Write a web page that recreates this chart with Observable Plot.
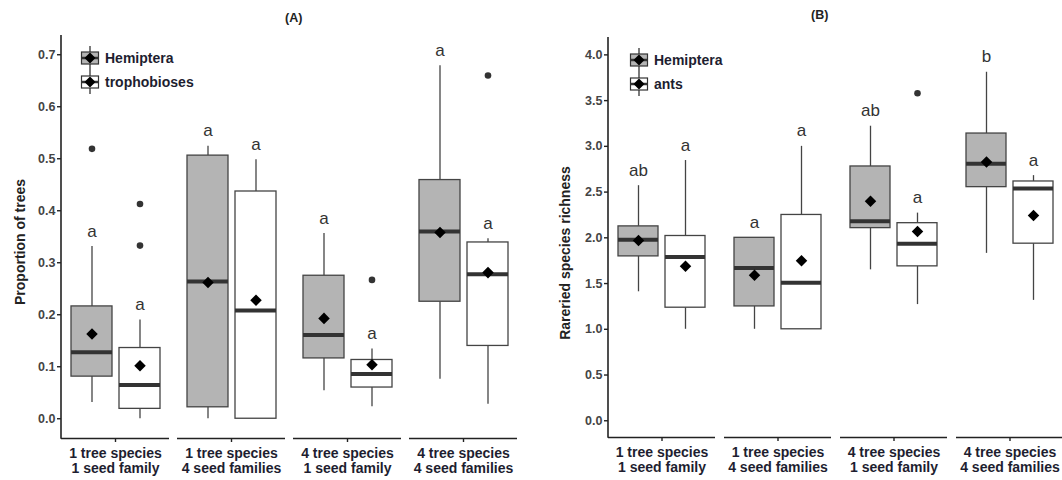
<!DOCTYPE html>
<html><head><meta charset="utf-8">
<script src="https://cdn.jsdelivr.net/npm/d3@7"></script>
<script src="https://cdn.jsdelivr.net/npm/@observablehq/plot@0.6"></script>
<style>
body{margin:0;background:#fff;font-family:"Liberation Sans",Arial,sans-serif;}
#wrap{position:relative;width:1062px;height:480px;overflow:hidden;background:#fff;}
.panel{position:absolute;top:0;}
.title{position:absolute;font-weight:bold;font-size:12.5px;color:#222;line-height:1;}
.ylab{position:absolute;font-weight:bold;font-size:14px;color:#222;white-space:nowrap;transform:translate(-50%,-50%) rotate(-90deg);line-height:1;}
.leg{position:absolute;display:flex;align-items:center;font-weight:bold;font-size:14px;color:#1e1e30;line-height:1;}
.leg svg{margin-right:5px;}
</style></head>
<body><div id="wrap"></div>
<script>
// ---------- data ----------
const groups = ["1 tree species\n1 seed family", "1 tree species\n4 seed families", "4 tree species\n1 seed family", "4 tree species\n4 seed families"];

// Panel A: proportion of trees (order: per group, Hemiptera then trophobioses)
const seriesA = ["Hemiptera", "trophobioses"];
const A_low  = [0.031, 0.000, 0.000, 0.000, 0.054, 0.023, 0.076, 0.028];
const A_q1   = [0.081, 0.019, 0.022, 0.000, 0.116, 0.060, 0.225, 0.140];
const A_med  = [0.128, 0.065, 0.264, 0.208, 0.161, 0.086, 0.360, 0.278];
const A_q3   = [0.216, 0.136, 0.506, 0.437, 0.275, 0.113, 0.459, 0.339];
const A_high = [0.331, 0.190, 0.524, 0.498, 0.356, 0.134, 0.679, 0.346];
const A_mean = [0.163, 0.102, 0.262, 0.228, 0.193, 0.104, 0.358, 0.281];
const A_letters = ["a", "a", "a", "a", "a", "a", "a", "a"];
const A_outIndex = [0, 1, 1, 5, 7];
const A_outValue = [0.519, 0.413, 0.333, 0.267, 0.660];
const A_ticks = [0, 0.1, 0.2, 0.3, 0.4, 0.5, 0.6, 0.7];
const A_yDomain = [-0.038, 0.737];

// Panel B: rarefied species richness (order: per group, Hemiptera then ants)
const seriesB = ["Hemiptera", "ants"];
const B_low  = [1.41, 1.00, 1.00, 1.00, 1.65, 1.27, 1.83, 1.316];
const B_q1   = [1.797, 1.236, 1.25, 1.00, 2.106, 1.688, 2.554, 1.936];
const B_med  = [1.98, 1.79, 1.67, 1.51, 2.18, 1.935, 2.81, 2.54];
const B_q3   = [2.125, 2.02, 2.00, 2.25, 2.78, 2.16, 3.14, 2.616];
const B_high = [2.57, 2.845, 2.00, 3.00, 3.22, 2.27, 3.81, 2.68];
const B_mean = [1.97, 1.69, 1.59, 1.75, 2.40, 2.07, 2.83, 2.245];
const B_letters = ["ab", "a", "a", "a", "ab", "a", "b", "a"];
const B_outIndex = [5];
const B_outValue = [3.58];
const B_ticks = [0, 0.5, 1.0, 1.5, 2.0, 2.5, 3.0, 3.5, 4.0];
const B_yDomain = [-0.183, 4.19];

const fillColors = ["#b4b4b4", "#ffffff"];

// ---------- build ----------
function rows(series, low, q1, med, q3, high, mean, letters) {
  return low.map((_, i) => ({
    group: groups[Math.floor(i / 2)], series: series[i % 2],
    low: low[i], q1: q1[i], med: med[i], q3: q3[i], high: high[i], mean: mean[i], letter: letters[i]
  }));
}
function outRows(series, idx, vals) {
  return idx.map((i, k) => ({group: groups[Math.floor(i / 2)], series: series[i % 2], value: vals[k]}));
}

function panel(cfg) {
  const data = rows(cfg.series, cfg.low, cfg.q1, cfg.med, cfg.q3, cfg.high, cfg.mean, cfg.letters);
  const outs = outRows(cfg.series, cfg.outIndex, cfg.outValue);
  const plot = Plot.plot({
    width: cfg.width, height: 480,
    marginTop: cfg.mt, marginBottom: cfg.mb, marginLeft: cfg.ml, marginRight: cfg.mr,
    style: {fontFamily: "'Liberation Sans', Arial, sans-serif", background: "transparent"},
    fx: {domain: groups, paddingInner: cfg.fxPad, paddingOuter: 0},
    x: {domain: cfg.series, paddingInner: 0.15, paddingOuter: 0.2, axis: null},
    y: {domain: cfg.yDomain},
    color: {domain: cfg.series, range: fillColors},
    marks: [
      Plot.axisY(cfg.ticks, {tickSize: 4, tickPadding: 2, label: null,
        tickFormat: d3.format(".1f"), fontSize: 12.5, fontWeight: "bold", fill: "#444", stroke: "#222", strokeWidth: 1.4}),
      Plot.axisFx({anchor: "bottom", tickSize: 4, tickPadding: 5, label: null, fontSize: 14,
        fontWeight: "bold", lineHeight: 1.07, fill: "#1e1e30", stroke: "#222", strokeWidth: 1.4}),
      Plot.ruleY([cfg.yDomain[0]], {stroke: "#222", strokeWidth: 1.6}),
      Plot.ruleX(data, {fx: "group", x: "series", y1: "low", y2: "q1", stroke: "#444", strokeWidth: 1.3}),
      Plot.ruleX(data, {fx: "group", x: "series", y1: "q3", y2: "high", stroke: "#444", strokeWidth: 1.3}),
      Plot.barY(data, {fx: "group", x: "series", y1: "q1", y2: "q3", fill: "series", stroke: "#444", strokeWidth: 1.3}),
      Plot.tickY(data, {fx: "group", x: "series", y: "med", stroke: "#333", strokeWidth: 4}),
      Plot.dot(data, {fx: "group", x: "series", y: "mean", symbol: "diamond2", r: 5.2, fill: "#000", stroke: null}),
      Plot.dot(outs, {fx: "group", x: "series", y: "value", r: 3.3, fill: "#333", stroke: null}),
      Plot.text(data, {fx: "group", x: "series", y: "high", text: "letter", lineAnchor: "bottom",
        dy: -10, fontSize: 17, fill: "#333"})
    ]
  });
  // vertical y-axis line along the left edge of the frame, spanning the y scale's range
  const yr = plot.scale("y").range;
  const ns = "http://www.w3.org/2000/svg";
  const ln = document.createElementNS(ns, "line");
  ln.setAttribute("x1", cfg.ml); ln.setAttribute("x2", cfg.ml);
  ln.setAttribute("y1", Math.min(...yr)); ln.setAttribute("y2", Math.max(...yr) + 0.8);
  ln.setAttribute("stroke", "#222"); ln.setAttribute("stroke-width", "1.6");
  plot.appendChild(ln);
  return plot;
}

const wrap = document.getElementById("wrap");
const pA = panel({series: seriesA, low: A_low, q1: A_q1, med: A_med, q3: A_q3, high: A_high, mean: A_mean,
  letters: A_letters, outIndex: A_outIndex, outValue: A_outValue, ticks: A_ticks, yDomain: A_yDomain,
  width: 531, mt: 35, mb: 42, ml: 61, mr: 14, fxPad: 0.069});
pA.classList.add("panel"); pA.style.left = "0px";
wrap.appendChild(pA);

const pB = panel({series: seriesB, low: B_low, q1: B_q1, med: B_med, q3: B_q3, high: B_high, mean: B_mean,
  letters: B_letters, outIndex: B_outIndex, outValue: B_outValue, ticks: B_ticks, yDomain: B_yDomain,
  width: 531, mt: 37, mb: 43, ml: 77, mr: -1, fxPad: 0.078});
pB.classList.add("panel"); pB.style.left = "531px";
wrap.appendChild(pB);

// ---------- titles, axis labels, legends ----------
function addDiv(cls, text, left, top) {
  const d = document.createElement("div");
  d.className = cls; d.textContent = text;
  d.style.left = left + "px"; d.style.top = top + "px";
  wrap.appendChild(d); return d;
}
addDiv("title", "(A)", 285, 12);
addDiv("title", "(B)", 811, 9);
addDiv("ylab", "Proportion of trees", 20, 242);
addDiv("ylab", "Rareried species richness", 565, 253);

function glyph(fill) {
  return `<svg width="20" height="24" viewBox="0 0 20 24">
    <line x1="10" y1="0" x2="10" y2="24" stroke="#222" stroke-width="1.2"/>
    <rect x="1.5" y="6" width="17" height="12" fill="${fill}" stroke="#333" stroke-width="1.2"/>
    <line x1="1.5" y1="12" x2="18.5" y2="12" stroke="#333" stroke-width="2.5"/>
    <path d="M10 6.5 L15.5 12 L10 17.5 L4.5 12 Z" fill="#000"/>
  </svg>`;
}
function legend(labels, left, top) {
  labels.forEach((lab, i) => {
    const d = document.createElement("div");
    d.className = "leg";
    d.style.left = left + "px"; d.style.top = (top + i * 24) + "px";
    d.innerHTML = glyph(fillColors[i]) + "<span>" + lab + "</span>";
    wrap.appendChild(d);
  });
}
legend(seriesA, 80, 46);
legend(seriesB, 629, 48);
</script>
</body></html>
